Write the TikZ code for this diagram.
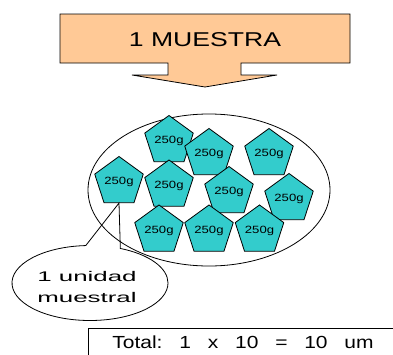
\documentclass[tikz,border=0pt]{standalone}
\usepackage{xcolor}
\usepackage{fontspec}
\setmainfont{Liberation Sans}
\usetikzlibrary{shapes.geometric,shapes.callouts}
\definecolor{durazno}{HTML}{FFC996}
\definecolor{turquesa}{HTML}{33CCCC}
\newcommand{\ancho}[2]{\scalebox{#1}[1]{#2}}
\newcommand{\esp}{\hspace{14pt}}

\begin{document}
\begin{tikzpicture}[x=1pt, y=-1pt, line width=0.8pt]
            \tikzstyle{bolsa} = [regular polygon, regular polygon sides=5, minimum size=41pt, inner sep=0pt, draw=black, fill=turquesa, font=\fontsize{10.5}{12}\selectfont]
            \tikzstyle{globo} = [ellipse callout, draw=black, minimum width=156pt, minimum height=75pt, inner sep=0pt, callout pointer arc=26]
            \clip (0,0) rectangle (393,354);

            % flecha de la muestra
            \draw [fill=durazno] (60,14) -- (350,14) -- (350,63) -- (241,63) -- (241,75) -- (277,75)
                -- (205,87) -- (132,75) -- (168,75) -- (168,63) -- (60,63) -- cycle;
            \node (muestra) at (205,40) {\fontsize{20}{24}\selectfont\ancho{1.33}{1 MUESTRA}};

            \node [ellipse, draw=black, minimum width=242pt, minimum height=152pt, inner sep=0pt] (lote) at (209,190) {};

            \node [bolsa] (P1) at (169,141) {\ancho{1.25}{250g}};
            \node [bolsa] (P2) at (209,154) {\ancho{1.25}{250g}};
            \node [bolsa] (P3) at (269,154) {\ancho{1.25}{250g}};
            \node [bolsa] (P4) at (119,182) {\ancho{1.25}{250g}};
            \node [bolsa] (P5) at (169,185.5) {\ancho{1.25}{250g}};
            \node [bolsa] (P6) at (229,192) {\ancho{1.25}{250g}};
            \node [bolsa] (P7) at (289,199) {\ancho{1.25}{250g}};
            \node [bolsa] (P8) at (159,230.5) {\ancho{1.25}{250g}};
            \node [bolsa] (P9) at (209,230.5) {\ancho{1.25}{250g}};
            \node [bolsa] (P10) at (259.5,230.5) {\ancho{1.25}{250g}};

            % globo de la unidad
            \node [globo, callout absolute pointer={(P4.south)}] (unidad) at (90,283) {};
            \node [align=center, font=\fontsize{14}{21}\selectfont] (etiqueta) at (87,287)
                {\ancho{1.85}{1 unidad}\\\ancho{1.85}{muestral}};

            \node [draw=black, anchor=north west, minimum width=330pt, minimum height=40pt] (caja) at (88,328) {};
            \node [font=\fontsize{17.5}{20}\selectfont] (total) at (243,342)
                {\ancho{1.2}{Total:\esp 1\esp x\esp 10\esp =\esp 10\esp um}};
        \end{tikzpicture}
\end{document}
